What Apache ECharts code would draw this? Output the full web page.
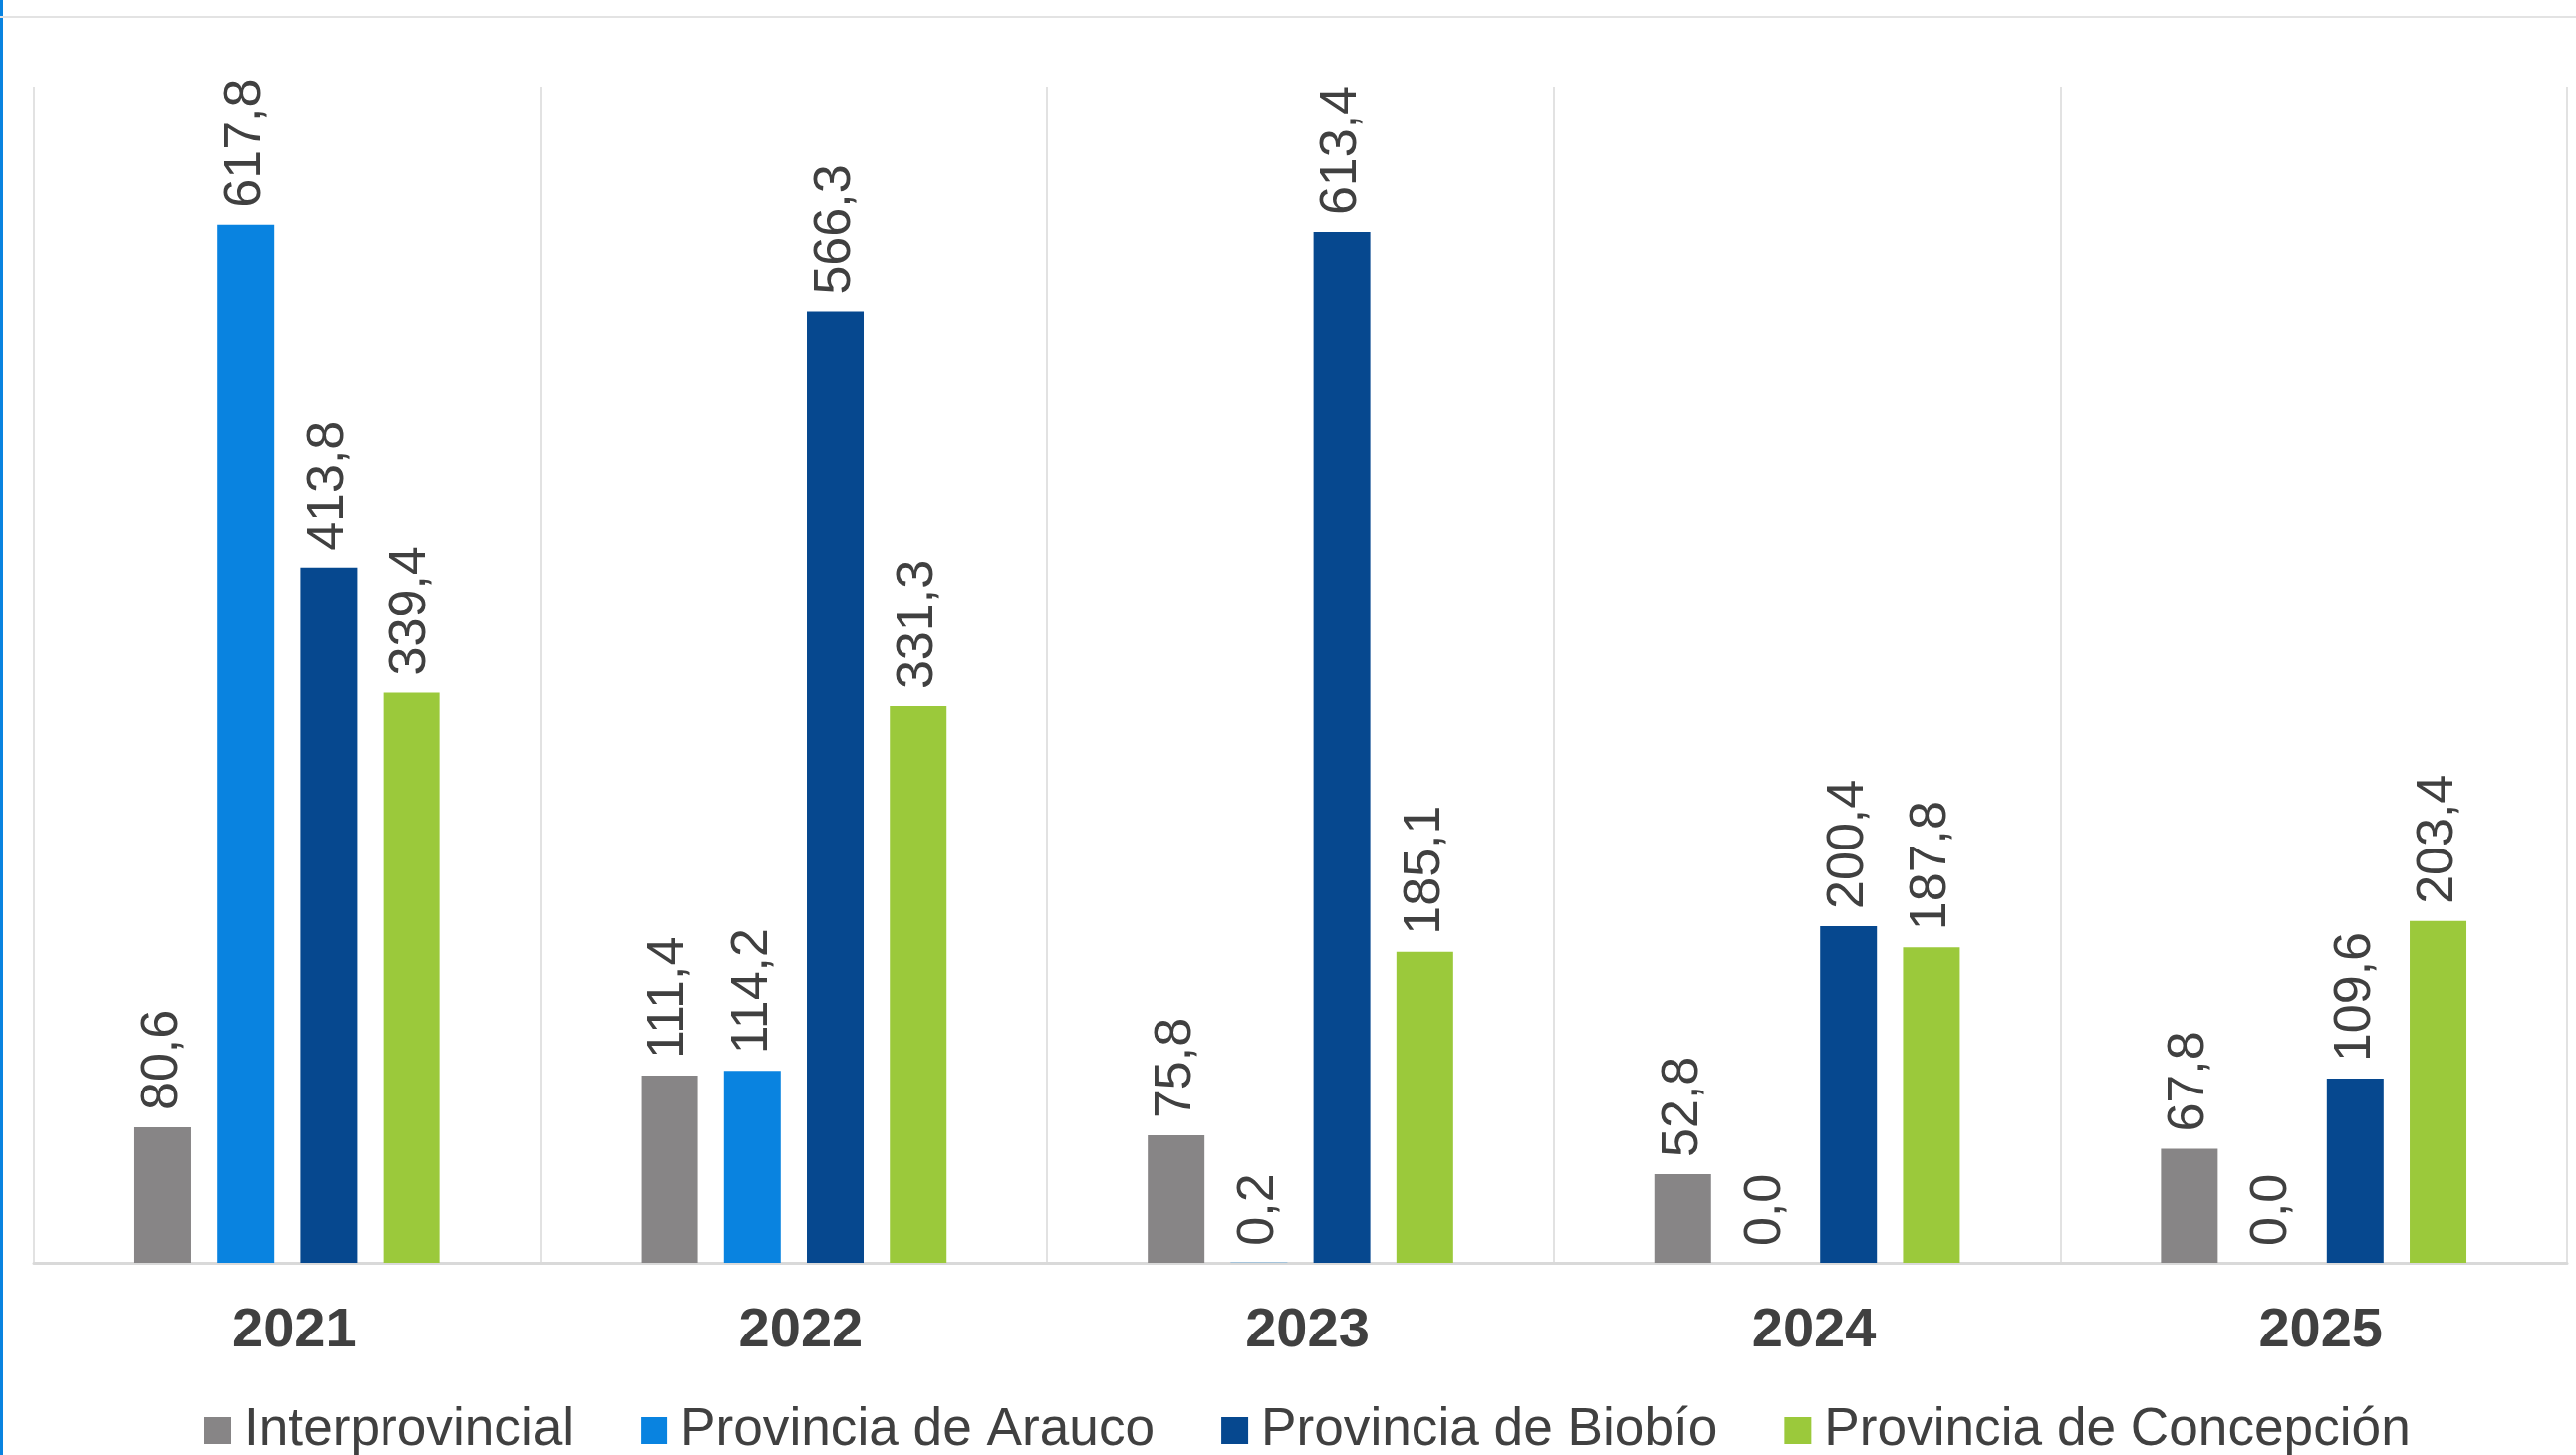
<!DOCTYPE html>
<html>
<head>
<meta charset="utf-8">
<script src="https://cdn.jsdelivr.net/npm/echarts@6/dist/echarts.min.js"></script>
<style>
html,body{margin:0;padding:0;background:#fff;}
#c{width:2586px;height:1461px;}
</style>
</head>
<body>
<div id="c"></div>
<script>
const categories = ['2021', '2022', '2023', '2024', '2025'];
const seriesNames = ['Interprovincial', 'Provincia de Arauco', 'Provincia de Biobío', 'Provincia de Concepción'];
const interprovincial = [80.6, 111.4, 75.8, 52.8, 67.8];
const arauco = [617.8, 114.2, 0.2, 0.0, 0.0];
const biobio = [413.8, 566.3, 613.4, 200.4, 109.6];
const concepcion = [339.4, 331.3, 185.1, 187.8, 203.4];
const colors = ['#878586', '#0983E0', '#06488F', '#9BC93B'];

const dataSets = [interprovincial, arauco, biobio, concepcion];
const FONT = '"Liberation Sans", Arial, sans-serif';

const chart = echarts.init(document.getElementById('c'), null, {renderer: 'canvas'});
chart.setOption({
  animation: false,
  color: colors,
  graphic: [
    {type: 'rect', left: 0, top: 0, shape: {width: 3, height: 1461}, style: {fill: '#0983E0'}},
    {type: 'rect', left: 0, top: 16, shape: {width: 2586, height: 2}, style: {fill: '#e3e3e3'}}
  ],
  grid: {left: 34, right: 9, top: 87, bottom: 193, containLabel: false},
  legend: {
    data: seriesNames,
    left: 200,
    top: 1405,
    itemWidth: 27,
    itemHeight: 27,
    itemGap: 67,
    icon: 'rect',
    textStyle: {fontFamily: FONT, fontSize: 53.2, color: '#404040', padding: [0, 0, 0, 8]}
  },
  xAxis: {
    type: 'category',
    data: categories,
    axisLine: {show: true, lineStyle: {color: '#d9d9d9', width: 3}},
    axisTick: {show: false},
    splitLine: {show: true, lineStyle: {color: '#e2e2e2', width: 2}},
    axisLabel: {fontFamily: FONT, fontSize: 56, fontWeight: 'bold', color: '#404040', margin: 41, padding: [0, 0, 0, 14]}
  },
  yAxis: {
    type: 'value',
    min: 0,
    max: 700,
    show: false,
    splitLine: {show: false}
  },
  series: dataSets.map((d, i) => ({
    name: seriesNames[i],
    type: 'bar',
    data: d,
    barWidth: 57,
    barGap: '46%',
    itemStyle: {color: colors[i]},
    label: {
      show: true,
      position: 'top',
      rotate: 90,
      align: 'left',
      verticalAlign: 'middle',
      distance: 17,
      fontFamily: FONT,
      fontSize: 52,
      color: '#404040',
      formatter: p => p.value.toFixed(1).replace('.', ',')
    }
  }))
});
</script>
</body>
</html>
